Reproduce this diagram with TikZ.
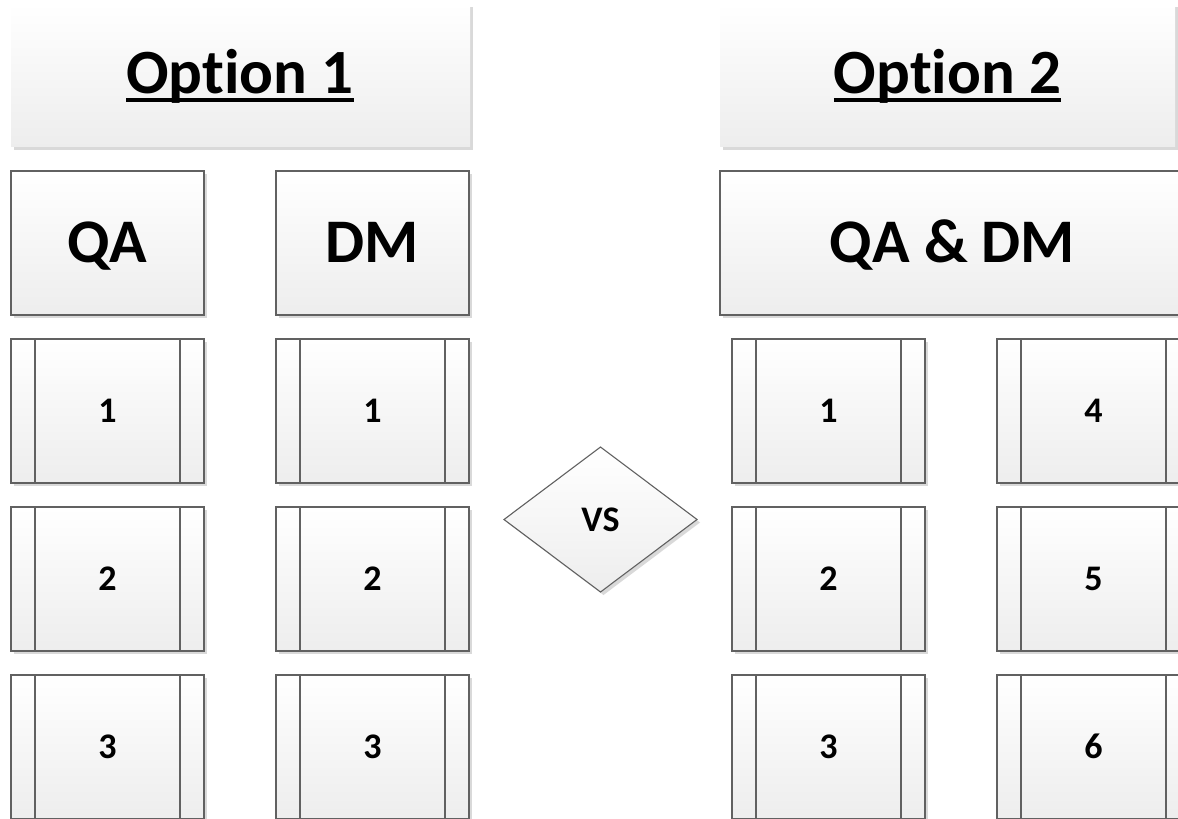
\documentclass[tikz,border=0pt]{standalone}
\usepackage{fontspec}
\setmainfont[RawFeature={-liga;-clig;-dlig}]{Carlito}
\usetikzlibrary{shadows}
\newcommand\myul[1]{\setbox0\hbox{#1}\rlap{\copy0}\rule[-9pt]{\wd0}{4pt}}
\tikzset{
  base/.style={rectangle, inner sep=0pt, top color=white, bottom color=black!7,
    drop shadow={shadow xshift=3pt, shadow yshift=-3pt, fill=black!15, opacity=1},
    font=\bfseries, text depth=0pt},
  titlebox/.style={base, minimum height=143pt},
  headbox/.style={base, draw=black!62, line width=1.1pt, minimum height=144pt, text height=39pt, font=\fontsize{62}{70}\selectfont\bfseries},
  headtext/.style={inner sep=0pt, text height=39pt, text depth=0pt, font=\fontsize{62}{70}\selectfont\bfseries},
  procbox/.style={base, draw=black!62, line width=1.1pt, minimum width=193pt, minimum height=144pt,
    text height=23pt, font=\fontsize{36}{40}\selectfont\bfseries,
    path picture={
      \draw[black!62, line width=1.1pt]
        ([xshift=24pt]path picture bounding box.north west) -- ([xshift=24pt]path picture bounding box.south west)
        ([xshift=-24pt]path picture bounding box.north east) -- ([xshift=-24pt]path picture bounding box.south east);
    }},
  titletext/.style={anchor=base, font=\fontsize{63}{70}\selectfont\bfseries}
}
\begin{document}
\begin{tikzpicture}[x=1pt, y=-1pt]
\useasboundingbox (0,0) rectangle (1178,819);
% title boxes
\node[titlebox, minimum width=459pt] (o1) at (240.5,75) {};
\node[titlebox, minimum width=455pt] (o2) at (947.5,75) {};
\node[titletext] (t1) at (240,93) {\myul{Option 1}};
\node[titletext] (t2) at (947.5,93) {\myul{Option 2}};
% header boxes
\node[headbox, minimum width=193pt] (qa) at (107.5,243) {QA};
\node[headbox, minimum width=193pt] (dm) at (372.5,243) {DM};
\node[headbox, minimum width=476pt] (qadm) at (958,243) {};
\node[headtext] (qadmt) at (952.5,243) {QA \& DM};
% process boxes, option 1
\node[procbox] (qa1) at (107.5,411) {1};
\node[procbox] (qa2) at (107.5,579) {2};
\node[procbox] (qa3) at (107.5,747) {3};
\node[procbox] (dm1) at (372.5,411) {1};
\node[procbox] (dm2) at (372.5,579) {2};
\node[procbox] (dm3) at (372.5,747) {3};
% process boxes, option 2
\node[procbox] (c1) at (828.5,411) {1};
\node[procbox] (c2) at (828.5,579) {2};
\node[procbox] (c3) at (828.5,747) {3};
\node[procbox] (c4) at (1093.5,411) {4};
\node[procbox] (c5) at (1093.5,579) {5};
\node[procbox] (c6) at (1093.5,747) {6};
% diamond
\path[draw=black!62, line width=1.1pt, top color=white, bottom color=black!7,
  drop shadow={shadow xshift=3pt, shadow yshift=-3pt, fill=black!15, opacity=1}]
  (600.5,447) -- (697,519.5) -- (600.5,592) -- (504,519.5) -- cycle;
\node[inner sep=0pt, text height=23pt, text depth=0pt, font=\fontsize{36}{40}\selectfont\bfseries] (vs) at (600.5,519.5) {VS};
\end{tikzpicture}
\end{document}
